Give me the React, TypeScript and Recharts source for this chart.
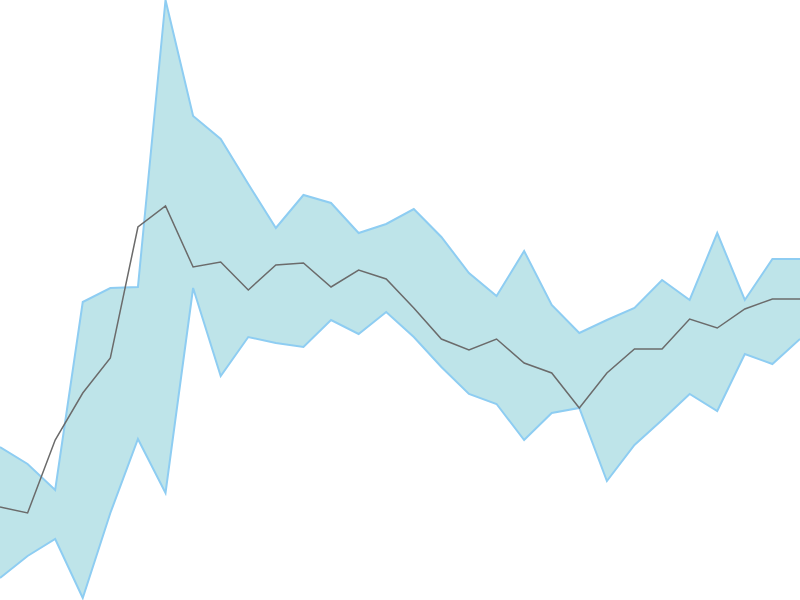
import React from "react";
import { ComposedChart, Area, Line, XAxis, YAxis } from "recharts";

const categories: number[] = Array.from({ length: 30 }, (_, i) => i);

const upperValues: number[] = [
  153, 136, 110, 298, 312, 313, 600, 484, 461, 416, 372, 405, 397, 367, 376,
  391, 363, 327, 304, 349, 295, 267, 280, 292, 320, 300, 367, 300, 341, 341,
];

const lowerValues: number[] = [
  22, 44, 61, 2, 87, 161, 107, 312, 224, 263, 257, 253, 280, 266, 288, 263,
  233, 206, 196, 160, 187, 192, 119, 155, 180, 206, 189, 246, 236, 261,
];

const meanValues: number[] = [
  93, 87, 160, 207, 242, 373, 394, 333, 338, 310, 335, 337, 313, 330, 321,
  292, 261, 250, 261, 237, 227, 192, 227, 251, 251, 281, 272, 291, 301, 301,
];

const data = categories.map((c, i) => ({
  x: c,
  range: [lowerValues[i], upperValues[i]],
  mean: meanValues[i],
}));

export default function App() {
  return (
    <div style={{ position: "absolute", left: 0, top: 0, width: 800, height: 600 }}>
      <ComposedChart
        width={800}
        height={600}
        data={data}
        margin={{ top: 0, right: 0, bottom: 0, left: 0 }}
      >
        <XAxis dataKey="x" hide />
        <YAxis hide domain={[0, 600]} />
        <Area
          type="linear"
          dataKey="range"
          stroke="#8ecdf2"
          strokeWidth={2}
          fill="#bee4e9"
          fillOpacity={1}
          isAnimationActive={false}
          dot={false}
          activeDot={false}
        />
        <Line
          type="linear"
          dataKey="mean"
          stroke="#6b6b6b"
          strokeWidth={1.5}
          dot={false}
          activeDot={false}
          isAnimationActive={false}
        />
      </ComposedChart>
    </div>
  );
}
